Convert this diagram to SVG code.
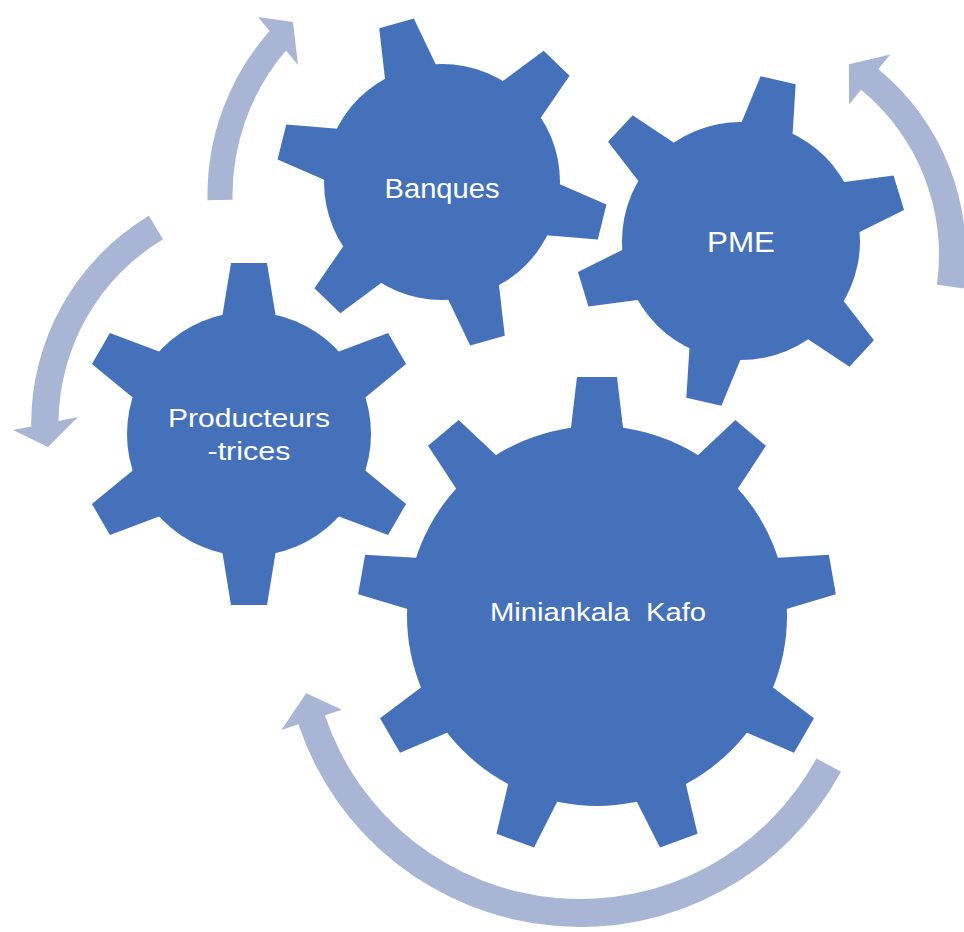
<svg xmlns="http://www.w3.org/2000/svg" xmlns:xlink="http://www.w3.org/1999/xlink" width="964" height="932" viewBox="0 0 964 932">
<style>
.gear{fill:#4571BA}
.arrow{fill:#A9B5D5}
.lbl{fill:#FFFFFF;font-family:"Liberation Sans",Arial,Helvetica,sans-serif;text-anchor:middle}
</style>
<defs>
<polygon id="t9" points="-27,-180 27,-180 20,-239 -20,-239"/>
<polygon id="t6a" points="-28,-110 28,-110 18,-171 -18,-171"/>
<polygon id="t6b" points="-28,-105 28,-105 18,-165 -18,-165"/>
</defs>
<rect width="964" height="932" fill="#FFFFFF"/>
<g id="connectors" class="arrow">
<path id="arrow-miniankala" d="M841.0,771.7 A297,297 0 0 1 298.35,724.24 L281.28,729.95 L306.2,693.2 L341.97,709.64 L324.9,715.35 A269,269 0 0 0 816.4,758.4 Z"/>
<path id="arrow-pme" d="M963.66,288.54 A241,241 0 0 0 878.30,69.04 L890.38,54.38 L848.91,64.2 L849.04,104.53 L861.12,89.87 A214,214 0 0 1 936.92,284.78 Z"/>
<path id="arrow-producteurs" d="M148.85,215.71 A243,243 0 0 0 31.2,426.4 L13,430 L48,447 L78,417 L58.5,420.9 A215.5,215.5 0 0 1 163.01,239.28 Z"/>
<path id="arrow-banques" d="M207.55,200.18 A247.5,247.5 0 0 1 269.6,30.9 L258,17 L293,22 L298,65 L286,50.6 A222.5,222.5 0 0 0 232.55,199.66 Z"/>
</g>
<g id="node-banques">
<g class="gear" transform="translate(442,182)">
<circle r="118"/>
<use xlink:href="#t6b" transform="rotate(-16)"/>
<use xlink:href="#t6b" transform="rotate(44)"/>
<use xlink:href="#t6b" transform="rotate(104)"/>
<use xlink:href="#t6b" transform="rotate(164)"/>
<use xlink:href="#t6b" transform="rotate(224)"/>
<use xlink:href="#t6b" transform="rotate(284)"/>
</g>
<text class="lbl" x="442" y="198" font-size="28" textLength="115" lengthAdjust="spacingAndGlyphs">Banques</text>
</g>
<g id="node-pme">
<g class="gear" transform="translate(741,241)">
<circle r="119"/>
<use xlink:href="#t6b" transform="rotate(13)"/>
<use xlink:href="#t6b" transform="rotate(73)"/>
<use xlink:href="#t6b" transform="rotate(133)"/>
<use xlink:href="#t6b" transform="rotate(193)"/>
<use xlink:href="#t6b" transform="rotate(253)"/>
<use xlink:href="#t6b" transform="rotate(313)"/>
</g>
<text class="lbl" x="741" y="252" font-size="30" textLength="68" lengthAdjust="spacingAndGlyphs">PME</text>
</g>
<g id="node-producteurs">
<g class="gear" transform="translate(249,434)">
<circle r="122"/>
<use xlink:href="#t6a"/>
<use xlink:href="#t6a" transform="rotate(60)"/>
<use xlink:href="#t6a" transform="rotate(120)"/>
<use xlink:href="#t6a" transform="rotate(180)"/>
<use xlink:href="#t6a" transform="rotate(240)"/>
<use xlink:href="#t6a" transform="rotate(300)"/>
</g>
<text class="lbl" x="249" y="427" font-size="25" textLength="162" lengthAdjust="spacingAndGlyphs">Producteurs</text>
<text class="lbl" x="249" y="460" font-size="25" textLength="83" lengthAdjust="spacingAndGlyphs">-trices</text>
</g>
<g id="node-miniankala">
<g class="gear" transform="translate(597,616)">
<circle r="190"/>
<use xlink:href="#t9"/>
<use xlink:href="#t9" transform="rotate(40)"/>
<use xlink:href="#t9" transform="rotate(80)"/>
<use xlink:href="#t9" transform="rotate(120)"/>
<use xlink:href="#t9" transform="rotate(160)"/>
<use xlink:href="#t9" transform="rotate(200)"/>
<use xlink:href="#t9" transform="rotate(240)"/>
<use xlink:href="#t9" transform="rotate(280)"/>
<use xlink:href="#t9" transform="rotate(320)"/>
</g>
<text class="lbl" x="598" y="621" font-size="25" textLength="216" lengthAdjust="spacingAndGlyphs" xml:space="preserve">Miniankala  Kafo</text>
</g>
</svg>
